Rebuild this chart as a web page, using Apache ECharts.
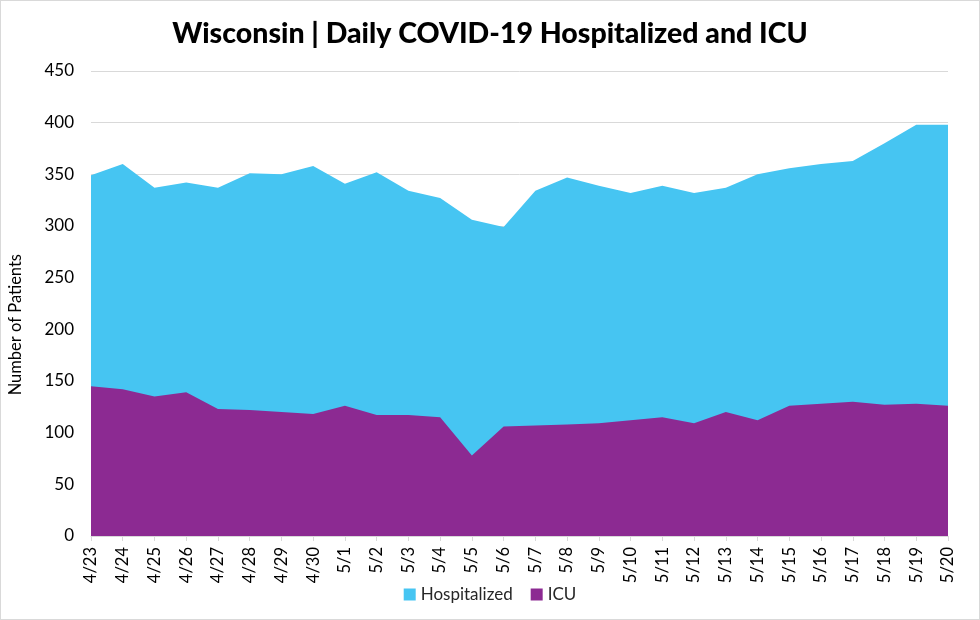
<!DOCTYPE html>
<html>
<head>
<meta charset="utf-8">
<script src="https://cdn.jsdelivr.net/npm/echarts@6/dist/echarts.min.js"></script>
<style>
html,body{margin:0;padding:0;background:#fff;}
#c{width:980px;height:620px;box-sizing:border-box;border:1px solid #d9d9d9;}
</style>
</head>
<body>
<div id="c"></div>
<script>
var dates = ['4/23','4/24','4/25','4/26','4/27','4/28','4/29','4/30','5/1','5/2','5/3','5/4','5/5','5/6','5/7','5/8','5/9','5/10','5/11','5/12','5/13','5/14','5/15','5/16','5/17','5/18','5/19','5/20'];
var hospitalized = [349,360,337,342,337,351,350,358,341,352,334,327,306,299,334,347,339,332,339,332,337,350,356,360,363,380,398,398];
var icu = [145,142,135,139,123,122,120,118,126,117,117,115,78,106,107,108,109,112,115,109,120,112,126,128,130,127,128,126];
var yTicks = [0,50,100,150,200,250,300,350,400,450];

var chart = echarts.init(document.getElementById('c'), null, {renderer:'canvas'});
var fontFam = 'Lato, "Open Sans", sans-serif';
chart.setOption({
  animation:false,
  backgroundColor:'#ffffff',
  title:{
    text:'Wisconsin | Daily COVID-19 Hospitalized and ICU',
    left:'center', top:13,
    textStyle:{fontFamily:fontFam, fontWeight:900, fontSize:28.5, color:'#000'}
  },
  legend:{
    bottom:11, left:'center',
    itemWidth:12, itemHeight:12, itemGap:18,
    icon:'rect',
    textStyle:{fontFamily:fontFam, fontSize:17, color:'#262626'},
    data:['Hospitalized','ICU']
  },
  grid:{left:90, right:31, top:70, bottom:83},
  xAxis:{
    type:'category', data:dates, boundaryGap:false,
    axisLine:{lineStyle:{color:'#d9d9d9'}},
    axisTick:{show:true, length:5, lineStyle:{color:'#d9d9d9'}},
    axisLabel:{rotate:90, fontFamily:fontFam, fontSize:16.5, color:'#000', margin:11, interval:0}
  },
  yAxis:{
    type:'value', min:yTicks[0], max:yTicks[yTicks.length-1], interval:50,
    axisLine:{show:false}, axisTick:{show:false},
    axisLabel:{fontFamily:fontFam, fontSize:17, color:'#000', margin:17},
    splitLine:{lineStyle:{color:'#d9d9d9', width:1}}
  },
  graphic:[{
    type:'text', left:6, top:253, rotation:Math.PI/2,
    style:{text:'Number of Patients', font:'16.5px '+fontFam, fill:'#000'}
  }],
  series:[
    {name:'Hospitalized', type:'line', data:hospitalized, symbol:'none',
     lineStyle:{width:0}, itemStyle:{color:'#46C5F2'}, areaStyle:{color:'#46C5F2', opacity:1}, z:2},
    {name:'ICU', type:'line', data:icu, symbol:'none',
     lineStyle:{width:0}, itemStyle:{color:'#8C2A92'}, areaStyle:{color:'#8C2A92', opacity:1}, z:3}
  ]
});
</script>
</body>
</html>
